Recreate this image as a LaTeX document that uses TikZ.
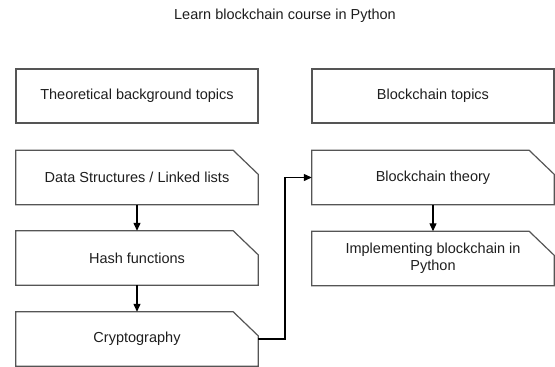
\documentclass[tikz,border=0pt]{standalone}
\usepackage{fontspec}
\setmainfont{Liberation Sans}
\usetikzlibrary{arrows.meta,calc}
\definecolor{linegray}{RGB}{85,85,85}
\definecolor{textgray}{RGB}{30,30,30}
\tikzset{
  every node/.style={font=\fontsize{14.5}{17}\selectfont, text=textgray},
  plainbox/.style={draw=linegray, line width=1.2pt, minimum width=242pt, minimum height=54pt, inner sep=0pt},
  cardbox/.style={minimum width=242pt, minimum height=54pt, inner sep=0pt, align=center},
  outline/.style={draw=linegray, line width=1.2pt},
  flow/.style={draw=black, line width=1.2pt, -{Triangle[length=8pt,width=7pt]}},
}
\begin{document}
\begin{tikzpicture}[x=1pt,y=-1pt]
\useasboundingbox (0,0) rectangle (555,367);
\node (title) at (285,16) {Learn blockchain course in Python};
\node[plainbox] (tb) at (137,96) {Theoretical background topics};
\node[plainbox] (bc) at (433,96) {Blockchain topics};
\node[cardbox] (ds) at (137,177.5) {Data Structures / Linked lists};
\node[cardbox] (hf) at (137,258) {Hash functions};
\node[cardbox] (cr) at (137,339) {Cryptography};
\node[cardbox] (bt) at (433,177.5) {Blockchain theory};
\node[cardbox] (ip) at (433,258.5) {Implementing blockchain in\\Python};
\foreach \n in {ds,hf,cr,bt,ip}
  \draw[outline] (\n.south west) -- (\n.north west) -- ([xshift=-25pt]\n.north east) -- ([yshift=-24pt]\n.north east) -- (\n.south east) -- cycle;
\draw[flow] (ds.south) -- (hf.north);
\draw[flow] (hf.south) -- (cr.north);
\draw[flow] (bt.south) -- (ip.north);
\coordinate (mid) at ($(cr.east)!0.5!(bt.west)$);
\draw[flow] (cr.east) -| (mid) |- (bt.west);
\end{tikzpicture}
\end{document}
